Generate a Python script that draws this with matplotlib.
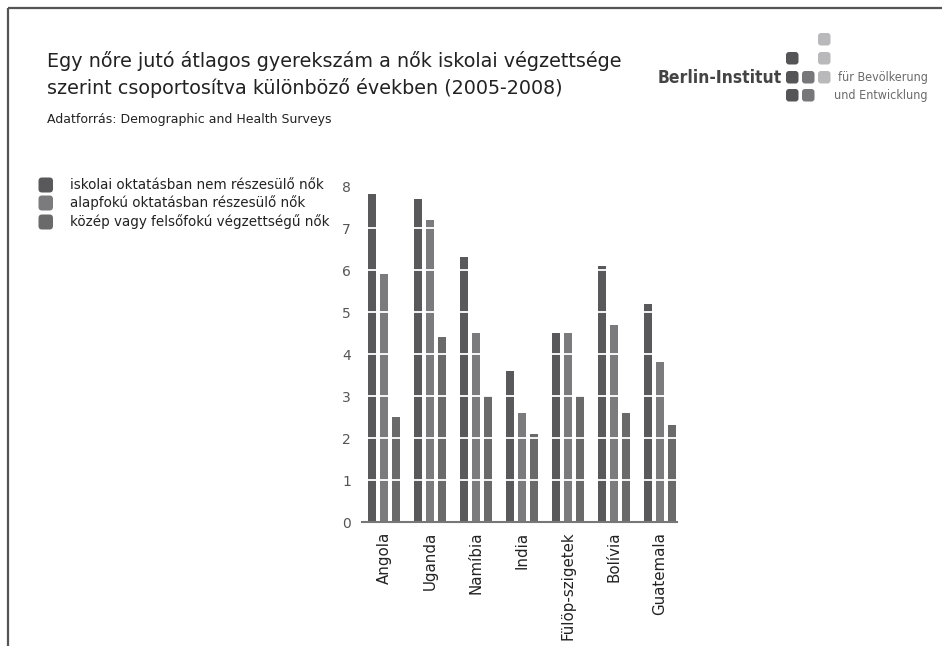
import matplotlib
matplotlib.use("Agg")
import matplotlib.pyplot as plt
from matplotlib.patches import FancyBboxPatch
import numpy as np

plt.rcParams['font.family'] = ['DejaVu Sans']

# ---- data ----
countries = ["Angola", "Uganda", "Namíbia", "India", "Fülöp-szigetek", "Bolívia", "Guatemala"]
no_school = [7.8, 7.7, 6.3, 3.6, 4.5, 6.1, 5.2]
primary = [5.9, 7.2, 4.5, 2.6, 4.5, 4.7, 3.8]
secondary = [2.5, 4.4, 3.0, 2.1, 3.0, 2.6, 2.3]
series_labels = ["iskolai oktatásban nem részesülő nők",
                 "alapfokú oktatásban részesülő nők",
                 "közép vagy felsőfokú végzettségű nők"]
yticks = [0, 1, 2, 3, 4, 5, 6, 7, 8]

title = "Egy nőre jutó átlagos gyerekszám a nők iskolai végzettsége\nszerint csoportosítva különböző években (2005-2008)"
subtitle = "Adatforrás: Demographic and Health Surveys"

colors = ["#59595b", "#7b7b7d", "#6a6a6b"]

W, H = 942, 646
fig = plt.figure(figsize=(W / 100, H / 100), dpi=100)

# overlay axes in pixel coordinates for decoration
deco = fig.add_axes([0, 0, 1, 1])
deco.set_xlim(0, W)
deco.set_ylim(H, 0)
deco.axis("off")

# frame lines
deco.plot([7.5, W], [7.5, 7.5], color="#555555", lw=1.6, solid_capstyle="butt")
deco.plot([7.5, 7.5], [7.5, H], color="#555555", lw=1.6, solid_capstyle="butt")

# title & subtitle
fig.text(47 / W, 1 - 51 / H, title, fontsize=13.8, color="#222222",
         ha="left", va="top", linespacing=1.42)
fig.text(47 / W, 1 - 119 / H, subtitle, fontsize=9, color="#222222",
         ha="left", va="center")

# logo
def sq(x, y, c, s=12.5):
    deco.add_patch(FancyBboxPatch((x, y), s, s, boxstyle="round,pad=0,rounding_size=3",
                                  fc=c, ec="none"))

dark_l, mid_l, light_l = "#555557", "#77777a", "#b9b9bb"
sq(818, 33, light_l)
sq(786, 52, dark_l)
sq(818, 52, light_l)
sq(786, 71, dark_l)
sq(802, 71, mid_l)
sq(818, 71, light_l)
sq(786, 89, dark_l)
sq(802, 89, mid_l)
deco.text(782, 78, "Berlin-Institut", fontsize=12.5, fontweight="bold",
          fontstretch="condensed", color="#444444",
          ha="right", va="center")
deco.text(838, 78, "für Bevölkerung", fontsize=9, fontstretch="condensed",
          color="#6a6a6a", ha="left", va="center")
deco.text(834, 96, "und Entwicklung", fontsize=9, fontstretch="condensed",
          color="#6a6a6a", ha="left", va="center")

# legend
leg_y = [185, 203, 222]
for c, lab, y in zip(colors, series_labels, leg_y):
    deco.add_patch(FancyBboxPatch((38.5, y - 7.5), 14.5, 15,
                                  boxstyle="round,pad=0,rounding_size=3.5",
                                  fc=c, ec="none"))
    deco.text(70, y, lab, fontsize=9.75, color="#222222", ha="left", va="center")

# main chart
ax = fig.add_axes([362 / W, 1 - 522 / H, (677 - 362) / W, (522 - 186) / H])
x = np.arange(len(countries))
bw = 8.5 / 46
off = 12 / 46
for i, (vals, c) in enumerate(zip([no_school, primary, secondary], colors)):
    ax.bar(x + (i - 1) * off, vals, width=bw, color=c, zorder=2)
for t in yticks[1:]:
    ax.axhline(t, color="white", lw=1.3, zorder=3)

ax.set_xlim(-0.48, 6.37)
ax.set_ylim(0, 8)
ax.set_yticks(yticks)
ax.set_yticklabels([str(t) for t in yticks])
ax.set_xticks(x)
ax.set_xticklabels(countries, rotation=90, fontsize=10.8, color="#222222")
ax.tick_params(axis="y", length=0, pad=8, labelsize=10, labelcolor="#555555")
ax.tick_params(axis="x", length=0, pad=7)
for s in ["top", "right", "left"]:
    ax.spines[s].set_visible(False)
ax.spines["bottom"].set_color("#777777")
ax.spines["bottom"].set_linewidth(1.5)
ax.set_facecolor("none")

fig.savefig("out.png", dpi=100)
